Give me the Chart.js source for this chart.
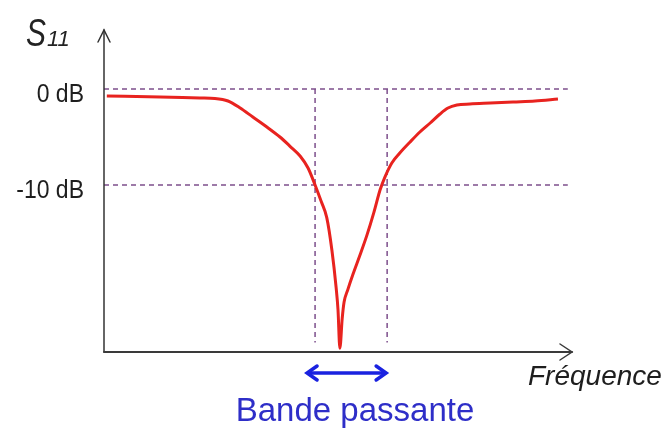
<!DOCTYPE html>
<html><head><meta charset="utf-8">
<script src="https://cdn.jsdelivr.net/npm/chart.js@4.4.1/dist/chart.umd.min.js"></script>
<style>html,body{margin:0;padding:0;background:#fff}#wrap{width:665px;height:435px;position:relative}</style>
</head><body><div id="wrap"><canvas id="c" width="665" height="435"></canvas></div>
<script>
// Frequency (arbitrary units) and S11 (dB)
const freq = [0.06, 1.20, 2.05, 2.37, 2.65, 2.91, 3.18, 3.48, 3.76, 3.97, 4.19, 4.36, 4.51, 4.64, 4.76, 4.87, 4.96, 5.00, 5.04,
              5.09, 5.13, 5.21, 5.32, 5.47, 5.62, 5.77, 5.90, 6.00, 6.15, 6.32, 6.54, 6.75, 6.97, 7.18, 7.35, 7.54, 7.82, 8.25, 8.74, 9.21, 9.70];
const s11 = [-0.73, -0.83, -0.94, -0.99, -1.25, -1.98, -2.92, -3.96, -5.0, -5.94, -6.98, -8.23, -10.0, -11.7, -13.4, -16.8, -20.7, -23.0, -27.0,
             -23.9, -22.2, -20.9, -19.3, -17.3, -15.2, -12.8, -10.5, -9.2, -7.7, -6.67, -5.52, -4.48, -3.54, -2.6, -1.98, -1.67, -1.56, -1.46, -1.35, -1.25, -1.04];
const refLevels = [0, -10];
const refLabels = ['0 dB', '-10 dB'];
const bandEdges = [4.51, 6.05];
const refLineEnd = 9.91;
const bandLineBottom = -26.4;
const xRange = [0, 10];
const yRange = [-27.4, 6.15];
const yTitle = ['S', '11'];
const xTitle = 'Fréquence';
const bandLabel = 'Bande passante';

const dashColor = '#7d4f8c';
const datasets = [{
  data: freq.map((f, i) => ({x: f, y: s11[i]})),
  borderColor: '#e8231f', borderWidth: 3, pointRadius: 0,
  cubicInterpolationMode: 'monotone', order: 0
}];
refLevels.forEach(l => datasets.push({
  data: [{x: xRange[0], y: l}, {x: refLineEnd, y: l}],
  borderColor: dashColor, borderWidth: 1.5, borderDash: [5, 4], pointRadius: 0, order: 2
}));
bandEdges.forEach(e => datasets.push({
  data: [{x: e, y: refLevels[0]}, {x: e, y: bandLineBottom}],
  borderColor: dashColor, borderWidth: 1.5, borderDash: [5, 4], pointRadius: 0, order: 2
}));

function txt(ctx, s, x, y, font, color, align, sx, sy) {
  ctx.save(); ctx.translate(x, y); ctx.scale(sx || 1, sy || 1);
  ctx.font = font; ctx.fillStyle = color; ctx.textAlign = align; ctx.textBaseline = 'alphabetic';
  ctx.fillText(s, 0, 0); ctx.restore();
}

const deco = {
  id: 'deco',
  afterDatasetsDraw(chart) {
    const ctx = chart.ctx, a = chart.chartArea, xs = chart.scales.x, ys = chart.scales.y;
    ctx.save();
    ctx.lineCap = 'round';
    // y axis with arrow
    ctx.strokeStyle = '#333'; ctx.lineWidth = 1.5;
    ctx.beginPath(); ctx.moveTo(a.left, a.bottom); ctx.lineTo(a.left, a.top); ctx.stroke();
    ctx.beginPath(); ctx.moveTo(a.left - 6, a.top + 12); ctx.lineTo(a.left, a.top); ctx.lineTo(a.left + 6, a.top + 12); ctx.stroke();
    // x axis with arrow
    ctx.strokeStyle = '#3a3a3a'; ctx.lineWidth = 2;
    ctx.beginPath(); ctx.moveTo(a.left, a.bottom); ctx.lineTo(a.right, a.bottom); ctx.stroke();
    ctx.lineWidth = 1.5;
    ctx.beginPath(); ctx.moveTo(a.right - 12, a.bottom - 8); ctx.lineTo(a.right, a.bottom); ctx.lineTo(a.right - 12, a.bottom + 8); ctx.stroke();
    // reference labels
    refLevels.forEach((l, i) => {
      txt(ctx, refLabels[i], a.left - 20, ys.getPixelForValue(l) + 13, '23px "Liberation Sans", Arial, sans-serif', '#1e1e1e', 'right', 1, 1.15);
    });
    // y title
    txt(ctx, yTitle[0], 26, 46, 'italic 30px "Liberation Sans", Arial, sans-serif', '#222', 'left', 1, 1.3);
    txt(ctx, yTitle[1], 47, 46, 'italic 22px "Liberation Sans", Arial, sans-serif', '#222', 'left', 1, 1);
    // x title
    txt(ctx, xTitle, 528, 385, 'italic 28px "Liberation Sans", Arial, sans-serif', '#1e1e1e', 'left', 1, 1);
    // band double arrow
    const x1 = xs.getPixelForValue(bandEdges[0]) - 8, x2 = xs.getPixelForValue(bandEdges[1]) - 1, yA = 373;
    ctx.strokeStyle = '#1a22e0'; ctx.lineWidth = 3.5;
    ctx.beginPath(); ctx.moveTo(x1 + 2, yA); ctx.lineTo(x2 - 2, yA); ctx.stroke();
    ctx.beginPath(); ctx.moveTo(x1 + 10, yA - 7); ctx.lineTo(x1, yA); ctx.lineTo(x1 + 10, yA + 7); ctx.stroke();
    ctx.beginPath(); ctx.moveTo(x2 - 10, yA - 7); ctx.lineTo(x2, yA); ctx.lineTo(x2 - 10, yA + 7); ctx.stroke();
    txt(ctx, bandLabel, 355, 421, '33px "Liberation Sans", Arial, sans-serif', '#2e2ec8', 'center', 1, 1);
    ctx.restore();
  }
};

new Chart(document.getElementById('c'), {
  type: 'line',
  data: {datasets},
  options: {
    responsive: false, animation: false,
    layout: {padding: {left: 104, right: 93, top: 30, bottom: 83}},
    scales: {
      x: {type: 'linear', min: xRange[0], max: xRange[1], display: false},
      y: {type: 'linear', min: yRange[0], max: yRange[1], display: false}
    },
    plugins: {legend: {display: false}, tooltip: {enabled: false}},
    elements: {line: {fill: false}}
  },
  plugins: [deco]
});
</script></body></html>
